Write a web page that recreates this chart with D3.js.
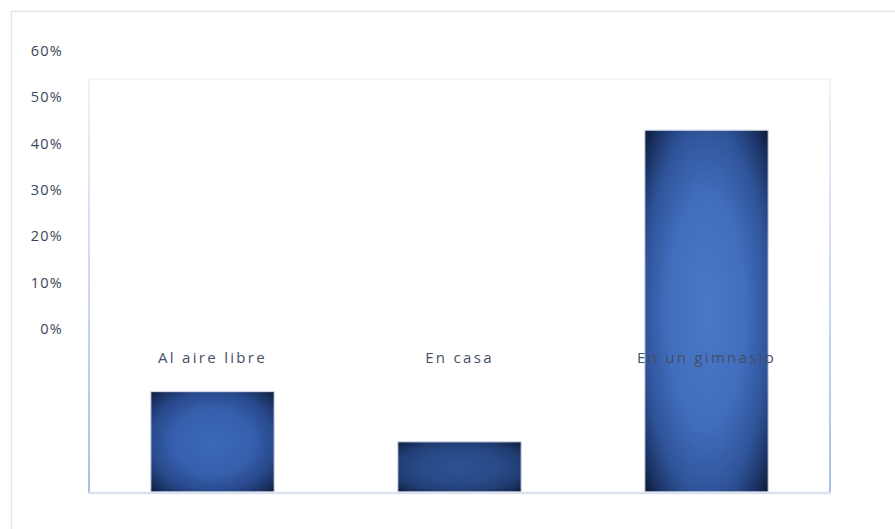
<!DOCTYPE html>
<html>
<head>
<meta charset="utf-8">
<script src="https://cdn.jsdelivr.net/npm/d3@7"></script>
<style>
  html, body { margin: 0; padding: 0; background: #ffffff; }
  svg { display: block; }
  text { font-family: "Open Sans", "Liberation Sans", sans-serif; }
</style>
</head>
<body>
<svg id="chart" width="895" height="529"></svg>
<script>
// Where people exercise (share of respondents)
const categories = ["Al aire libre", "En casa", "En un gimnasio"];
const values = [0.196, 0.098, 0.706];
const tickValues = [0, 0.1, 0.2, 0.3, 0.4, 0.5, 0.6];

const svg = d3.select("#chart");
const W = 895, H = 529;

// plot frame
const plot = { left: 89, top: 79, right: 830, bottom: 492 };

const defs = svg.append("defs");

function radial(id, stops) {
  const g = defs.append("radialGradient")
    .attr("id", id).attr("cx", "50%").attr("cy", "50%").attr("r", "71%");
  stops.forEach(([o, c]) => g.append("stop").attr("offset", o).attr("stop-color", c));
}
radial("barGrad", [["0%", "#3c69ba"], ["45%", "#3660ae"], ["72%", "#28488a"], ["88%", "#1a3162"], ["100%", "#0c1832"]]);
radial("smallGrad", [["0%", "#2c5193"], ["45%", "#284a88"], ["72%", "#213d72"], ["88%", "#172b55"], ["100%", "#0b1730"]]);
radial("tallGrad", [["0%", "#4b78c8"], ["45%", "#416dbd"], ["72%", "#2f5398"], ["88%", "#1b3466"], ["100%", "#0c1832"]]);

const sideGrad = defs.append("linearGradient")
  .attr("id", "sideGrad").attr("x1", 0).attr("y1", 0).attr("x2", 0).attr("y2", 1);
sideGrad.append("stop").attr("offset", "0%").attr("stop-color", "#eef2f9");
sideGrad.append("stop").attr("offset", "100%").attr("stop-color", "#a9bfe6");

// outer chart border (runs past the window on the right and bottom)
svg.append("path")
  .attr("d", `M11.5,${H + 5} V11.5 H${W + 5}`)
  .attr("fill", "none").attr("stroke", "#e3e6ec").attr("stroke-width", 1.5);

// plot frame
svg.append("line")
  .attr("x1", plot.left).attr("x2", plot.right).attr("y1", plot.top).attr("y2", plot.top)
  .attr("stroke", "#f1f4f9").attr("stroke-width", 1.5);
svg.append("rect")
  .attr("x", plot.left - 1).attr("y", plot.top).attr("width", 2).attr("height", plot.bottom - plot.top)
  .attr("fill", "url(#sideGrad)");
svg.append("rect")
  .attr("x", plot.right - 1).attr("y", plot.top).attr("width", 2).attr("height", plot.bottom - plot.top)
  .attr("fill", "url(#sideGrad)");

// scales
const x = d3.scaleBand().domain(categories).range([plot.left, plot.right]).paddingInner(0.5).paddingOuter(0.25);
const y = d3.scaleLinear().domain([0, 0.8]).range([plot.bottom, 82]);

// bars
svg.append("g").selectAll("rect")
  .data(categories.map((c, i) => ({ c, v: values[i], i })))
  .join("rect")
  .attr("x", d => x(d.c))
  .attr("y", d => y(d.v))
  .attr("width", x.bandwidth())
  .attr("height", d => y(0) - y(d.v))
  .attr("fill", d => d.v > 0.5 ? "url(#tallGrad)" : d.v < 0.15 ? "url(#smallGrad)" : "url(#barGrad)")
  .attr("stroke", "#d3dbea").attr("stroke-width", 1.2);

// baseline
svg.append("line")
  .attr("x1", plot.left - 1).attr("x2", plot.right + 1).attr("y1", plot.bottom + 1).attr("y2", plot.bottom + 1)
  .attr("stroke", "#dde3ee").attr("stroke-width", 2.5);

// value axis labels (set apart to the left of the plot)
const yAxisScale = d3.scaleLinear().domain([0, 0.6]).range([329, 51]);
const yAxis = d3.axisLeft(yAxisScale).tickValues(tickValues).tickFormat(d3.format(".0%")).tickSize(0).tickPadding(0);
const gy = svg.append("g").attr("transform", "translate(63,0)").call(yAxis);
gy.select(".domain").remove();
gy.selectAll("text")
  .attr("fill", "#3b465a").attr("font-size", 14.5).style("letter-spacing", "1.2px");

// category labels
const xAxis = d3.axisTop(x).tickSize(0).tickPadding(0);
const gx = svg.append("g").attr("transform", "translate(0,363)").call(xAxis);
gx.select(".domain").remove();
gx.selectAll("text")
  .attr("fill", "#454f64").attr("font-size", 15).style("letter-spacing", "2.3px");
</script>
</body>
</html>
